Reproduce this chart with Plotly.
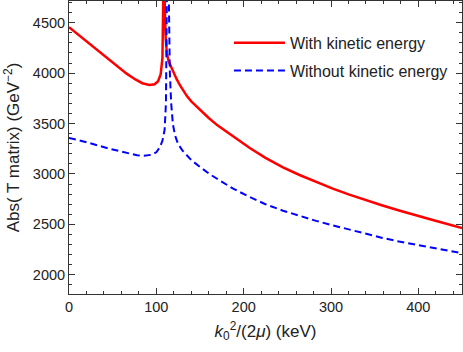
import plotly.graph_objects as go

# Red curve: with kinetic energy
with_x = [0, 12, 24, 38, 52, 66, 76, 84, 92, 98, 102, 105, 107, 108.0, 108.6, 109.0, 109.6, 110.5, 112, 114,
          117, 120, 123, 127, 131, 135, 140, 150, 160, 170, 190, 207, 225, 245, 264, 283, 302, 321, 340, 359,
          378, 397, 416.5, 450]
with_y = [4455, 4370, 4285, 4187, 4090, 3995, 3937, 3900, 3883, 3890, 3920, 3990, 4150, 4500, 5400, 5400,
          4700, 4380, 4200, 4120, 4060, 4000, 3945, 3880, 3822, 3772, 3720, 3635, 3555, 3482, 3357, 3257, 3160,
          3065, 2990, 2920, 2855, 2795, 2740, 2688, 2638, 2590, 2543, 2464]

# Blue curve: without kinetic energy
without_x = [0, 20, 47, 65, 78, 86, 94, 100, 104, 107, 109.5, 111, 112, 112.7, 113.3, 113.9, 114.6, 115.5,
             117, 119, 121.5, 125, 130, 135, 140, 150, 160, 170, 188, 207, 225, 245, 264, 283, 302, 321, 340,
             359, 378, 397, 416.5, 450]
without_y = [3358, 3315, 3249, 3208, 3185, 3180, 3190, 3215, 3265, 3330, 3440, 3700, 4100, 5000, 6000, 5000,
             4200, 4000, 3700, 3490, 3380, 3295, 3232, 3180, 3138, 3070, 3005, 2950, 2854, 2771, 2700, 2636,
             2583, 2535, 2491, 2447, 2405, 2366, 2330, 2298, 2267, 2215]

x_tickvals = [0, 100, 200, 300, 400]
y_tickvals = [2000, 2500, 3000, 3500, 4000, 4500]

FONT = "Liberation Sans, Arial"
fig = go.Figure()
fig.add_trace(go.Scatter(x=with_x, y=with_y, mode="lines", name="With kinetic energy",
                         legendgroup="a", line=dict(color="#ff0000", width=2.5)))
fig.add_trace(go.Scatter(x=without_x, y=without_y, mode="lines", name="Without kinetic energy",
                         legendgroup="b", line=dict(color="#0000ff", width=2, dash="7px,4px")))

axis_common = dict(showline=True, linecolor="#333333", linewidth=1, mirror="allticks",
                   ticks="inside", ticklen=6, tickcolor="#333333", showgrid=False, zeroline=False,
                   automargin=False,
                   tickfont=dict(family=FONT, size=14.5, color="#222222"))

fig.update_xaxes(range=[0, 450], tickvals=x_tickvals,
                 minor=dict(dtick=20, ticks="inside", ticklen=3, tickcolor="#333333"),
                 title=dict(text="<i>k</i><sub>0</sub><sup>2</sup>/(2<i>μ</i>) (keV)",
                            font=dict(family=FONT, size=17, color="#222222"),
                            standoff=10),
                 **axis_common)
fig.update_yaxes(range=[1810, 4715], tickvals=y_tickvals,
                 minor=dict(dtick=100, ticks="inside", ticklen=3, tickcolor="#333333"),
                 title=dict(text="Abs( T matrix) (GeV<sup>−2</sup>)",
                            font=dict(family=FONT, size=17, color="#222222"),
                            standoff=8),
                 **axis_common)

fig.update_layout(
    width=463, height=352,
    margin=dict(l=69, r=1, t=1, b=58),
    paper_bgcolor="white", plot_bgcolor="white",
    legend=dict(x=0.407, y=0.915, xanchor="left", yanchor="top", bgcolor="rgba(0,0,0,0)",
                font=dict(family=FONT, size=16, color="#222222"),
                itemwidth=51, tracegroupgap=4),
    showlegend=True,
)

fig.write_html("out.html", config={"displayModeBar": False},
               post_script="document.body.style.margin='0';document.body.style.padding='0';")
